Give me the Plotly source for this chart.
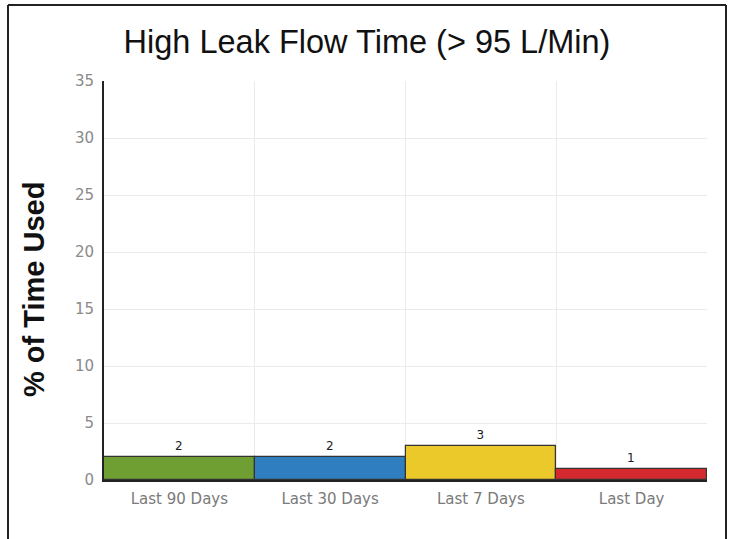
import plotly.graph_objects as go

categories = ["Last 90 Days", "Last 30 Days", "Last 7 Days", "Last Day"]
values = [2, 2, 3, 1]
labels = ["2", "2", "3", "1"]
bar_colors = ["#6f9f33", "#2f7fc0", "#ecc92a", "#d42a2f"]
y_ticks = [0, 5, 10, 15, 20, 25, 30, 35]

W, H = 736, 539
ML, MR, MT, MB = 104, 29, 81, 59
pw, ph = W - ML - MR, H - MT - MB

def px_x(x):
    return (x - ML) / pw

def px_y(y):
    return (H - MB - y) / ph

xs = list(range(len(categories)))

fig = go.Figure(go.Bar(
    x=xs, y=values,
    marker=dict(color=bar_colors, line=dict(color="#333333", width=1.2)),
    text=labels, textposition="outside",
    textfont=dict(family="DejaVu Sans", size=12, color="#222222"),
    cliponaxis=False,
))

fig.update_layout(
    width=W, height=H,
    margin=dict(l=ML, r=MR, t=MT, b=MB),
    paper_bgcolor="white", plot_bgcolor="white",
    bargap=0,
    showlegend=False,
    title=dict(text="High Leak Flow Time (> 95 L/Min)", x=367 / W, xanchor="center",
               y=1 - 42 / H, yanchor="middle",
               font=dict(family="Liberation Sans, Arial", size=32.5, color="#111111")),
    xaxis=dict(range=[-0.5, len(categories) - 0.5], tickvals=xs, ticktext=categories,
               showgrid=False, zeroline=False,
               showline=True, linecolor="#222222", linewidth=2,
               ticks="", ticklabelstandoff=4,
               tickfont=dict(family="DejaVu Sans", size=15, color="#7a7a7a"),
               minor=dict(tick0=0.5, dtick=1, showgrid=True, gridcolor="#ebebeb", gridwidth=1, ticks=""),
               fixedrange=True),
    yaxis=dict(range=[0, 35], tickvals=y_ticks, showgrid=True, gridcolor="#ebebeb",
               zeroline=False, showline=True, linecolor="#222222", linewidth=2,
               ticks="", ticklen=0, ticklabelstandoff=5,
               tickfont=dict(family="DejaVu Sans", size=15, color="#8a8a8a"),
               fixedrange=True),
)

fig.add_annotation(text="<b>% of Time Used</b>", textangle=-90, showarrow=False,
                   xref="paper", yref="paper", x=px_x(34), y=px_y(290),
                   xanchor="center", yanchor="middle",
                   font=dict(family="Liberation Sans, Arial", size=29, color="#111111"))

# outer frame lines
border = dict(color="#222222", width=2)
fig.add_shape(type="line", xref="paper", yref="paper",
              x0=px_x(8), x1=px_x(8), y0=px_y(5), y1=px_y(H), line=border)
fig.add_shape(type="line", xref="paper", yref="paper",
              x0=px_x(8), x1=px_x(726), y0=px_y(5), y1=px_y(5), line=border)
fig.add_shape(type="line", xref="paper", yref="paper",
              x0=px_x(726), x1=px_x(726), y0=px_y(5), y1=px_y(H), line=border)

fig.write_html("out.html", config={"displayModeBar": False},
               post_script="document.body.style.margin='0px';document.body.style.overflow='hidden';")
